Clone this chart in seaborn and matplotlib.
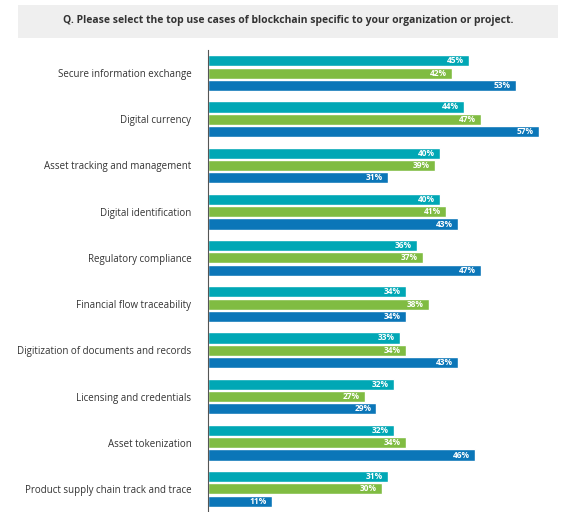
import matplotlib
matplotlib.use("Agg")
import matplotlib.pyplot as plt
import seaborn as sns
import pandas as pd
from matplotlib.patches import Rectangle

categories = ["Secure information exchange", "Digital currency", "Asset tracking and management",
              "Digital identification", "Regulatory compliance", "Financial flow traceability",
              "Digitization of documents and records", "Licensing and credentials",
              "Asset tokenization", "Product supply chain track and trace"]
series_a = [45, 44, 40, 40, 36, 34, 33, 32, 32, 31]
series_b = [42, 47, 39, 41, 37, 38, 34, 27, 34, 30]
series_c = [53, 57, 31, 43, 47, 34, 43, 29, 46, 11]
series_names = ["A", "B", "C"]
colors = ["#00a7b5", "#80bc42", "#0b76b8"]

rows = []
for name, vals in zip(series_names, [series_a, series_b, series_c]):
    for c, v in zip(categories, vals):
        rows.append({"cat": c, "series": name, "val": v})
df = pd.DataFrame(rows)

sns.set_style("white")
plt.rcParams['font.family'] = ['Open Sans', 'DejaVu Sans']
fig = plt.figure(figsize=(5.74, 5.12), dpi=100)
ax = fig.add_axes([208/574, 0.0, 1 - 208/574, 1 - 50/512])
sns.barplot(data=df, x="val", y="cat", hue="series", palette=colors, order=categories,
            hue_order=series_names, orient="h", width=0.8, ax=ax, legend=False, saturation=1)
ax.set_xlim(0, 63)
ax.set_ylim(9.5, -0.5)
for p in ax.patches:
    h = p.get_height()
    p.set_height(h * 0.9)
    p.set_y(p.get_y() + h * 0.05)
for cont in ax.containers:
    ax.bar_label(cont, labels=[f"{int(v)}%" for v in cont.datavalues], padding=-16,
                 color="white", fontsize=6, fontweight="bold")
ax.set_xlabel("")
ax.set_ylabel("")
ax.set_xticks([])
ax.tick_params(axis="y", length=0, labelsize=7, pad=12, labelcolor="#333333")
for s in ["top", "right", "bottom"]:
    ax.spines[s].set_visible(False)
ax.spines["left"].set_color("#555555")
ax.spines["left"].set_linewidth(0.8)

fig.patches.append(Rectangle((18/574, 1 - 38/512), 540/574, 33/512, transform=fig.transFigure,
                             facecolor="#efefef", edgecolor="none"))
fig.text(288/574, 1 - 21/512, "Q. Please select the top use cases of blockchain specific to your organization or project.",
         ha="center", va="center", fontsize=7.5, fontweight="bold", color="#333333")
fig.savefig("out.png", dpi=100)
